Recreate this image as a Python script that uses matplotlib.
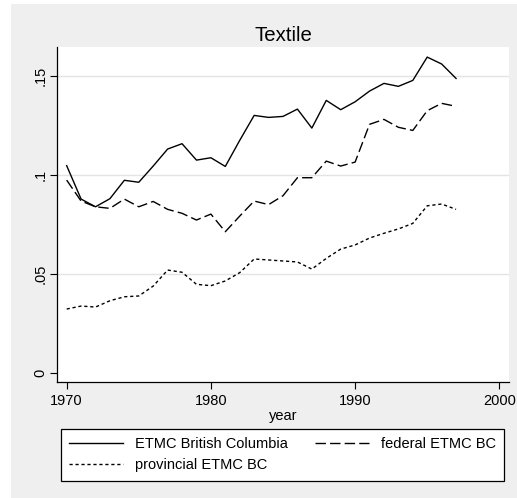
import matplotlib
matplotlib.use("Agg")
import matplotlib.pyplot as plt
from matplotlib.patches import Rectangle

plt.rcParams["font.family"] = ["Liberation Sans", "DejaVu Sans"]
plt.rcParams["lines.scale_dashes"] = False

years = list(range(1970, 1998))

etmc_bc = [0.1047, 0.0878, 0.0839, 0.0880, 0.0973, 0.0963, 0.1045, 0.1131,
           0.1158, 0.1075, 0.1087, 0.1043, 0.1175, 0.1301, 0.1291, 0.1296,
           0.1333, 0.1237, 0.1377, 0.1330, 0.1370, 0.1424, 0.1463, 0.1448,
           0.1478, 0.1596, 0.1561, 0.1488]

federal_bc = [0.0974, 0.0868, 0.0839, 0.0831, 0.0878, 0.0839, 0.0866, 0.0826,
              0.0806, 0.0772, 0.0802, 0.0713, 0.0792, 0.0868, 0.0850, 0.0895,
              0.0986, 0.0986, 0.1070, 0.1045, 0.1065, 0.1256, 0.1281, 0.1241,
              0.1225, 0.1325, 0.1362, 0.1347]

provincial_bc = [0.0322, 0.0337, 0.0332, 0.0364, 0.0384, 0.0388, 0.0438, 0.0519,
                 0.0508, 0.0447, 0.0440, 0.0464, 0.0506, 0.0575, 0.0570, 0.0565,
                 0.0560, 0.0524, 0.0578, 0.0625, 0.0646, 0.0681, 0.0705, 0.0727,
                 0.0755, 0.0844, 0.0853, 0.0826]

x_ticks = [1970, 1980, 1990, 2000]
y_ticks = [0, 0.05, 0.1, 0.15]
y_ticklabels = ["0", ".05", ".1", ".15"]

W, H = 517, 498
bg = "#efefef"

fig = plt.figure(figsize=(W / 100, H / 100), dpi=100, facecolor="white")
# grey graph region (leaves a thin white strip at left/top)
fig.patches.append(Rectangle((11 / W, 0), 1 - 11 / W, 1 - 4 / H,
                             transform=fig.transFigure, facecolor=bg,
                             edgecolor="none", zorder=-10))

ax = fig.add_axes([57 / W, 1 - 382 / H, (509 - 57) / W, (382 - 47) / H])
ax.set_facecolor("white")

l1, = ax.plot(years, etmc_bc, color="black", lw=1.0, ls="-")
l2, = ax.plot(years, federal_bc, color="black", lw=1.0, ls=(0, (7.5, 3)))
l3, = ax.plot(years, provincial_bc, color="black", lw=1.0, ls=(0, (2.3, 2.0)))

ax.set_xlim(1969.33, 2000.67)
ax.set_ylim(-0.0047, 0.1647)

ax.set_xticks(x_ticks)
ax.set_yticks(y_ticks)
ax.set_yticklabels(y_ticklabels, rotation=90, va="center")
ax.tick_params(axis="both", direction="out", length=5, width=0.8,
               labelsize=10.5, colors="black", pad=2)
ax.tick_params(axis="x", pad=3.5)

for v in y_ticks[1:]:
    ax.axhline(v, color="#e4e4e4", lw=1.0, zorder=0)

for s in ("top", "right"):
    ax.spines[s].set_visible(False)
for s in ("left", "bottom"):
    ax.spines[s].set_linewidth(0.9)

ax.set_xlabel("year", fontsize=10.5, labelpad=0.5)
ax.set_title("Textile", fontsize=14.7, pad=4)

leg = fig.legend([l1, l3, l2],
                 ["ETMC British Columbia", "provincial ETMC BC", "federal ETMC BC"],
                 ncol=2, loc="upper center",
                 bbox_to_anchor=(282.5 / W, 1 - 429 / H),
                 fontsize=10.5, handlelength=3.7, handletextpad=0.8,
                 columnspacing=1.9, labelspacing=0.5, borderpad=0.56,
                 borderaxespad=0,
                 frameon=True, fancybox=False, edgecolor="black",
                 facecolor="white", framealpha=1)
leg.get_frame().set_linewidth(0.9)

fig.savefig("out.png", dpi=100, facecolor=fig.get_facecolor())
